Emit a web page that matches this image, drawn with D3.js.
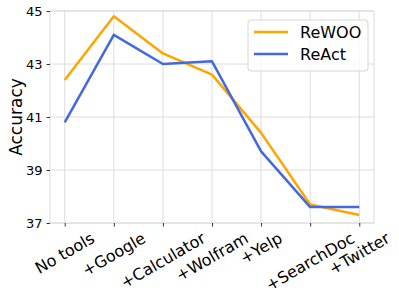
<!DOCTYPE html>
<html>
<head>
<meta charset="utf-8">
<script src="https://cdn.jsdelivr.net/npm/d3@7"></script>
<style>
  body { margin: 0; background: #fff; }
  text { font-family: "DejaVu Sans", sans-serif; fill: #000; }
</style>
</head>
<body>
<div id="chart"></div>
<script>
var tools = ["No tools", "+Google", "+Calculator", "+Wolfram", "+Yelp", "+SearchDoc", "+Twitter"]
var rewoo = [42.4, 44.8, 43.4, 42.6, 40.4, 37.7, 37.3]
var react = [40.8, 44.1, 43.0, 43.1, 39.7, 37.6, 37.6]
var yTicks = [37, 39, 41, 43, 45]

var width = 399, height = 299
var plotLeft = 50, plotRight = 374, plotTop = 11, plotBottom = 223

var svg = d3.select('#chart').append('svg')
  .attr('width', width)
  .attr('height', height)

// matplotlib style 5% margin on the x axis
var x = d3.scalePoint()
  .domain(tools)
  .range([plotLeft, plotRight])
  .padding(0.3)

var y = d3.scaleLinear()
  .domain([37, 45])
  .range([plotBottom, plotTop])

var grid = svg.append('g')

grid.selectAll('.vgrid')
  .data(tools)
  .enter()
  .append('line')
  .attr('x1', d => x(d))
  .attr('x2', d => x(d))
  .attr('y1', plotTop)
  .attr('y2', plotBottom)
  .attr('stroke', '#dcdcdc')
  .attr('stroke-width', 1)

grid.selectAll('.hgrid')
  .data(yTicks)
  .enter()
  .append('line')
  .attr('x1', plotLeft)
  .attr('x2', plotRight)
  .attr('y1', d => y(d))
  .attr('y2', d => y(d))
  .attr('stroke', '#dcdcdc')
  .attr('stroke-width', 1)

// frame
svg.append('rect')
  .attr('x', plotLeft)
  .attr('y', plotTop)
  .attr('width', plotRight - plotLeft)
  .attr('height', plotBottom - plotTop)
  .attr('fill', 'none')
  .attr('stroke', '#dcdcdc')
  .attr('stroke-width', 1)

// y axis
var yAxis = svg.append('g')
  .attr('transform', 'translate(' + plotLeft + ',0)')
  .call(d3.axisLeft(y).tickValues(yTicks).tickSize(3.5).tickPadding(4))
yAxis.select('.domain').remove()
yAxis.selectAll('line').attr('stroke', '#333')
yAxis.selectAll('text').style('font-size', '13px').style('font-family', 'DejaVu Sans')

// x axis
var xAxis = svg.append('g')
  .attr('transform', 'translate(0,' + plotBottom + ')')
  .call(d3.axisBottom(x).tickSize(3.5).tickFormat(''))
xAxis.select('.domain').remove()
xAxis.selectAll('line').attr('stroke', '#333')

var fs = 16
var labels = svg.append('g').selectAll('text')
  .data(tools)
  .enter()
  .append('text')
  .style('font-size', fs + 'px')
  .attr('text-anchor', 'middle')
  .attr('dominant-baseline', 'central')
  .text(d => d)

labels.each(function(d){
  var L = this.getComputedTextLength()
  var H = L * 0.5 + fs * 0.9 * 0.866
  var cy = plotBottom + 3.5 + 4 + H / 2
  d3.select(this).attr('transform', 'translate(' + x(d) + ',' + cy + ') rotate(-30)')
})

svg.append('text')
  .attr('transform', 'translate(16,' + ((plotTop + plotBottom) / 2) + ') rotate(-90)')
  .attr('text-anchor', 'middle')
  .attr('dominant-baseline', 'central')
  .style('font-size', '17px')
  .text('Accuracy')

var line = d3.line()
  .x((d, i) => x(tools[i]))
  .y(d => y(d))

var series = [
  {name: 'ReWOO', values: rewoo, color: '#FFA500'},
  {name: 'ReAct', values: react, color: '#4169E1'}
]

// ReWOO drawn first, ReAct on top
series.forEach(function(s){
  svg.append('path')
    .datum(s.values)
    .attr('d', line)
    .attr('fill', 'none')
    .attr('stroke', s.color)
    .attr('stroke-width', 2.5)
    .attr('stroke-linejoin', 'round')
})

// legend
var legend = svg.append('g').attr('transform', 'translate(248,20)')
legend.append('rect')
  .attr('width', 120)
  .attr('height', 51)
  .attr('rx', 3)
  .attr('fill', '#fff')
  .attr('fill-opacity', 0.8)
  .attr('stroke', '#d6d6d6')

series.forEach(function(s, i){
  var g = legend.append('g').attr('transform', 'translate(0,' + (12 + i * 22) + ')')
  g.append('line')
    .attr('x1', 6)
    .attr('x2', 40)
    .attr('stroke', s.color)
    .attr('stroke-width', 2.5)
  g.append('text')
    .attr('x', 52)
    .attr('dominant-baseline', 'central')
    .style('font-size', '16px')
    .text(s.name)
})
</script>
</body>
</html>
